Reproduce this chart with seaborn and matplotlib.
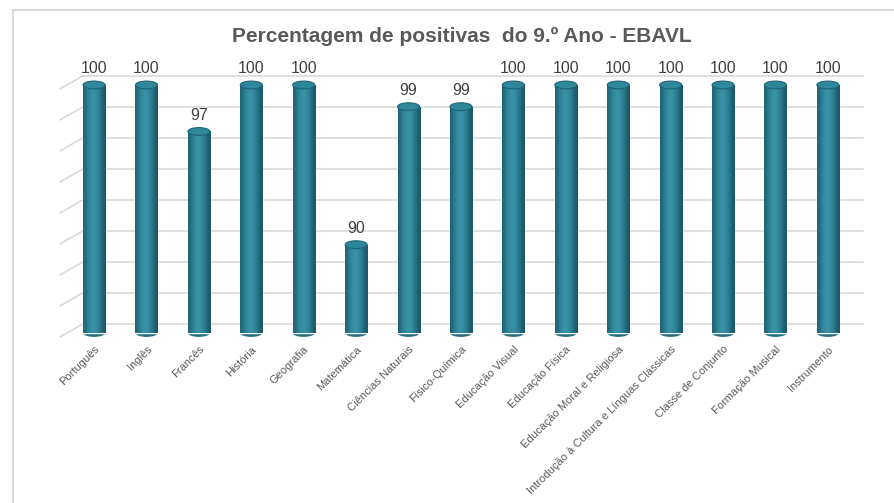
import numpy as np
import matplotlib
matplotlib.use("Agg")
import matplotlib.pyplot as plt
import seaborn as sns
import pandas as pd
from matplotlib.patches import Ellipse, Rectangle

disciplinas = ["Português", "Inglês", "Francês", "História", "Geografia",
               "Matemática", "Ciências Naturais", "Físico-Química",
               "Educação Visual", "Educação Física",
               "Educação Moral e Religiosa",
               "Introdução à Cultura e Línguas Clássicas",
               "Classe de Conjunto", "Formação Musical", "Instrumento"]
positivas = [100, 100, 97, 100, 100, 89.7, 98.6, 98.6,
             100, 100, 100, 100, 100, 100, 100]
y_ticks = [84, 86, 88, 90, 92, 94, 96, 98, 100]

df = pd.DataFrame({"disciplina": disciplinas, "pct": positivas})

sns.set_style("white")
plt.rcParams["font.family"] = ["Liberation Sans", "DejaVu Sans"]

fig = plt.figure(figsize=(8.95, 5.03), dpi=100)
ax = fig.add_axes([60 / 895, 1 - 340 / 503, 803 / 895, 280 / 503])

base = y_ticks[0]
bar_w = 0.42
sns.barplot(data=df, x="disciplina", y="pct", color="#2B7F94",
            width=bar_w, ax=ax, saturation=1, zorder=3)

ax.set_xlim(-0.65, len(disciplinas) - 1 + 0.67)
ax.set_ylim(83.55, 101.61)

# back wall gridlines with small perspective lines on the left
shift = 0.6
for t in y_ticks:
    ax.plot([0.029, 1], [t + shift, t + shift], transform=ax.get_yaxis_transform(),
            color="#D9D9D9", lw=1.2, zorder=1, clip_on=False)
    ax.plot([0, 0.029], [t - 0.25, t + shift], transform=ax.get_yaxis_transform(),
            color="#D9D9D9", lw=1.2, zorder=1, clip_on=False)

# cylinder look: gradient fill + caps
grad = np.array([[0.15, 0.5, 0.85, 0.9, 0.65, 0.3, 0.0]])
cmap = matplotlib.colors.LinearSegmentedColormap.from_list(
    "cyl", ["#1C5869", "#2A7C91", "#3A93A9"])
cap_h = 0.5
for p, v in zip(ax.patches, positivas):
    x0 = p.get_x()
    w = p.get_width()
    p.set_y(base)
    p.set_height(v - base)
    im = ax.imshow(grad, cmap=cmap, aspect="auto", extent=[x0, x0 + w, base, v],
                   zorder=3, interpolation="bicubic")
    im.set_clip_path(p)
    bottom = Ellipse((x0 + w / 2, base), w, cap_h, facecolor="#246F83",
                     edgecolor="none", zorder=2.9)
    ax.add_patch(bottom)
    top = Ellipse((x0 + w / 2, v), w, cap_h, facecolor="#2F879C",
                  edgecolor="#1F6475", lw=0.8, zorder=4)
    ax.add_patch(top)
    ax.text(x0 + w / 2, v + 0.55, f"{v:.0f}", ha="center", va="bottom",
            fontsize=11.5, color="#404040", zorder=5)

ax.set_xlabel("")
ax.set_ylabel("")
ax.set_yticks([])
ax.tick_params(axis="x", length=0, pad=3)
ax.set_xticks(range(len(disciplinas)))
ax.set_xticklabels(disciplinas, rotation=45, ha="right", rotation_mode="anchor",
                   fontsize=8, color="#595959")
sns.despine(ax=ax, left=True, bottom=True)

fig.suptitle("Percentagem de positivas  do 9.º Ano - EBAVL", x=462 / 895,
             y=1 - 36 / 503, va="center", fontsize=15, fontweight="bold",
             color="#595959")

# chart frame
fig.patches.append(Rectangle((13 / 895, -0.1), 1.2, 1.1 - 10 / 503, fill=False,
                             edgecolor="#D9D9D9", lw=1.5,
                             transform=fig.transFigure, figure=fig))

fig.savefig("out.png", dpi=100)
